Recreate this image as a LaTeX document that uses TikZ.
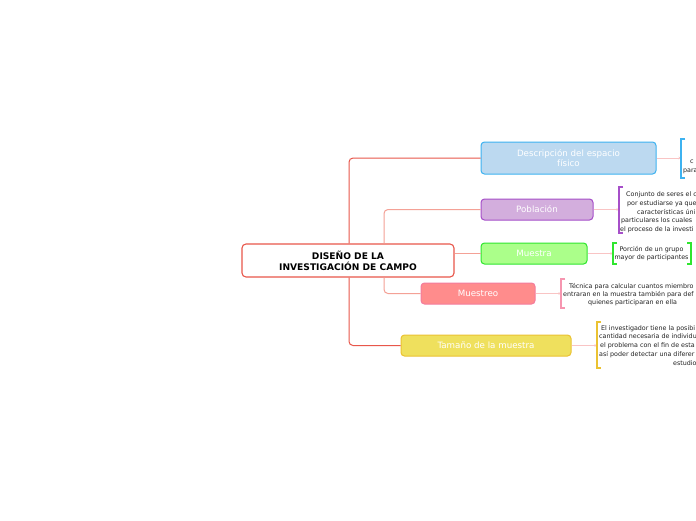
\documentclass[tikz,border=0pt]{standalone}
\usepackage{fontspec}
\setmainfont{DejaVu Sans}
\usetikzlibrary{arrows.meta}
\definecolor{mainred}{HTML}{E8574B}
\definecolor{innerred}{HTML}{F4A196}
\definecolor{desclink}{HTML}{F9C4C4}
\definecolor{bluefill}{HTML}{BCD9F0}
\definecolor{blueline}{HTML}{3DB2F0}
\definecolor{purplefill}{HTML}{D3AEDD}
\definecolor{purpleline}{HTML}{A64FC9}
\definecolor{greenfill}{HTML}{ABFF8A}
\definecolor{greenline}{HTML}{2FE62F}
\definecolor{pinkfill}{HTML}{FF8C8C}
\definecolor{pinkline}{HTML}{F47C9C}
\definecolor{yellowfill}{HTML}{EFE05D}
\definecolor{yellowline}{HTML}{EBC232}
\definecolor{txtgray}{HTML}{222222}
\tikzset{
  topic/.style={draw, line width=1pt, rounded corners=3.5pt, text=white, inner sep=0pt,
    font=\fontsize{8.7}{10.5}\selectfont, align=center},
  centerbox/.style={draw=mainred, fill=white, line width=1.1pt, rounded corners=4pt,
    inner sep=0pt, font=\fontsize{9.1}{11.2}\selectfont\bfseries, align=center,
    minimum width=212pt, minimum height=33pt},
  outerlink/.style={draw=mainred, line width=1pt, rounded corners=4pt},
  innerlink/.style={draw=innerred, line width=1pt, rounded corners=4pt},
  desclinkstyle/.style={draw=desclink, line width=1pt, -{Stealth[length=2.5pt,width=2.5pt]}},
  bracketline/.style={line width=1.1pt},
  desctext/.style={inner sep=0pt, text=txtgray, font=\fontsize{6.35}{8.7}\selectfont},
}
\begin{document}
\begin{tikzpicture}[x=1pt,y=-1pt]
\useasboundingbox (0,0) rectangle (696,520);
\clip (0,0) rectangle (696,520);
\fill[white] (0,0) rectangle (696,520);

% central node
\node[centerbox] (center) at (348,260.5) {DISEÑO DE LA\\INVESTIGACIÓN DE CAMPO};

% topic nodes
\node[topic, fill=bluefill, draw=blueline, minimum width=175pt, minimum height=32pt] (desc) at (568.5,158) {Descripción del espacio\\físico};
\node[topic, fill=purplefill, draw=purpleline, minimum width=112pt, minimum height=21pt] (pob) at (537,209.5) {Población};
\node[topic, fill=greenfill, draw=greenline, minimum width=106pt, minimum height=21pt] (mue) at (534,253.5) {Muestra};
\node[topic, fill=pinkfill, draw=pinkline, minimum width=114pt, minimum height=21pt] (mueo) at (478,293.5) {Muestreo};
\node[topic, fill=yellowfill, draw=yellowline, minimum width=170pt, minimum height=21pt] (tam) at (486,345.5) {Tamaño de la muestra};

% branch columns
\coordinate (outerx) at (349,0);
\coordinate (innerx) at (384,0);

\draw[outerlink] (center.north -| outerx) |- (desc.west);
\draw[outerlink] (center.south -| outerx) |- (tam.west);
\draw[innerlink] (center.north -| innerx) |- (pob.west);
\draw[innerlink] (center.south -| innerx) |- (mueo.west);
\draw[innerlink] (center.east |- mue.west) -- (mue.west);

% brackets
\coordinate (bdesc) at (681,158);
\coordinate (bpob) at (619,210);
\coordinate (bmue) at (613,253.5);
\coordinate (bmueo) at (561,293.5);
\coordinate (btam) at (597,345);

\draw[desclinkstyle] (desc.east) -- (bdesc);
\draw[desclinkstyle] (pob.east) -- (pob.east -| bpob);
\draw[desclinkstyle] (mue.east) -- (bmue);
\draw[desclinkstyle] (mueo.east) -- (bmueo);
\draw[desclinkstyle] (tam.east) -- (tam.east -| btam);

\draw[bracketline, blueline] (685,139) -- (681,139) -- (681,178) -- (685,178);
\draw[bracketline, purpleline] (623,187) -- (619,187) -- (619,233) -- (623,233);
\draw[bracketline, greenline] (617,243) -- (613,243) -- (613,264) -- (617,264);
\draw[bracketline, greenline] (687,243) -- (691,243) -- (691,264) -- (687,264);
\draw[bracketline, pinkline!80] (565,279) -- (561,279) -- (561,308) -- (565,308);
\draw[bracketline, yellowline] (601,322) -- (597,322) -- (597,368) -- (601,368);

% descriptions
\node[desctext, anchor=base west] (d1) at (690,163.5) {c};
\node[desctext, anchor=base west] (d2) at (683,172) {para};

\node[desctext, anchor=base west] (p1) at (626,196.5) {Conjunto de seres el c};
\node[desctext, anchor=base west] (p2) at (627,205.3) {por estudiarse ya que};
\node[desctext, anchor=base west] (p3) at (637,214) {características úni};
\node[desctext, anchor=base west] (p4) at (621,222.8) {particulares los cuales};
\node[desctext, anchor=base west] (p5) at (620,231.5) {el proceso de la investi};

\node[desctext, align=center] (m1) at (651.5,253.5) {Porción de un grupo\\mayor de participantes};

\node[desctext, anchor=base west] (s1) at (569,288) {Técnica para calcular cuantos miembro};
\node[desctext, anchor=base west] (s2) at (563,296.3) {entraran en la muestra también para def};
\node[desctext, anchor=base west] (s3) at (588,304.6) {quienes participaran en ella};

\node[desctext, anchor=base west] (t1) at (601,330) {El investigador tiene la posibi};
\node[desctext, anchor=base west] (t2) at (599,338.8) {cantidad necesaria de individu};
\node[desctext, anchor=base west] (t3) at (600,347.6) {el problema con el fin de esta};
\node[desctext, anchor=base west] (t4) at (599,356.4) {así poder detectar una diferer};
\node[desctext, anchor=base west] (t5) at (673,365.2) {estudio};
\end{tikzpicture}
\end{document}
